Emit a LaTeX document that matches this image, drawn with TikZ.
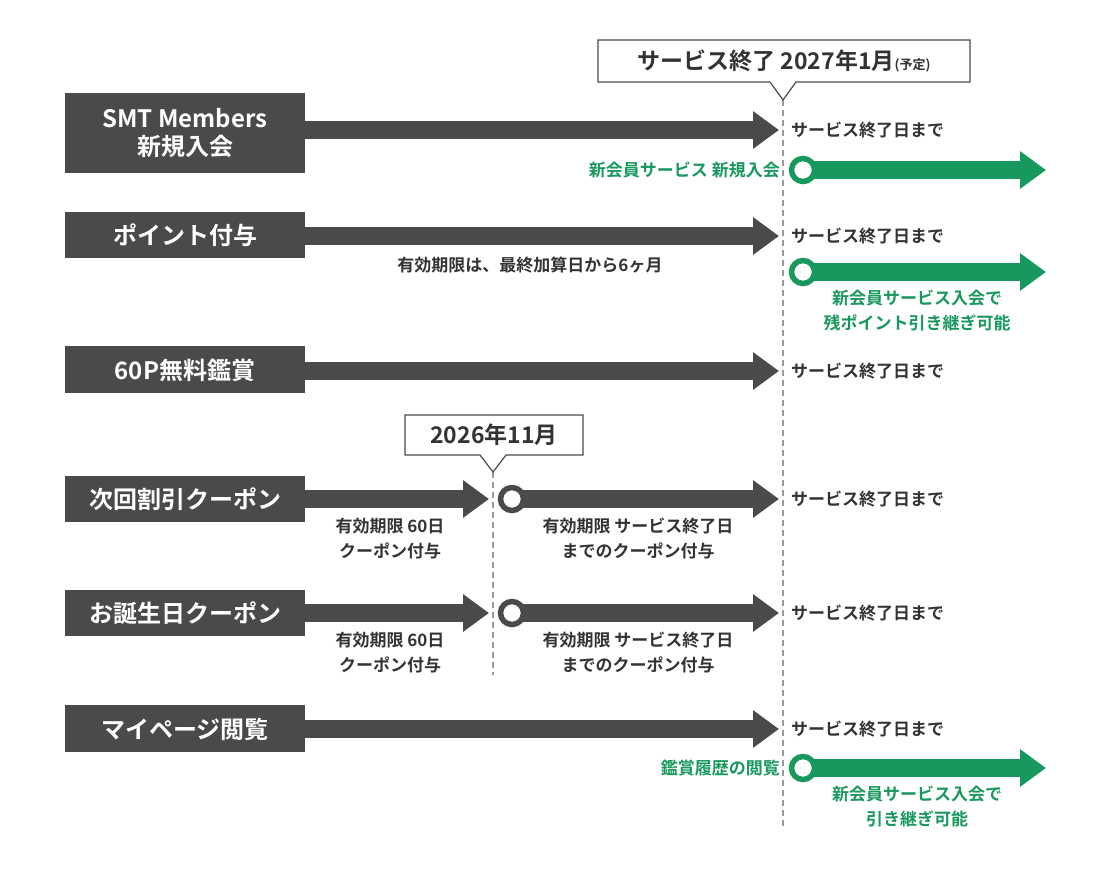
\documentclass[tikz,border=0pt]{standalone}
\usepackage{fontspec}
\setmainfont{Noto Sans CJK JP}[BoldFont={* Bold}]
\usetikzlibrary{arrows.meta}
\definecolor{dk}{HTML}{4A4A4A}
\definecolor{gr}{HTML}{17985C}
\definecolor{txt}{HTML}{333333}
\begin{document}
\begin{tikzpicture}[x=1pt,y=-1pt,
  box/.style={fill=dk,text=white,font=\fontsize{24}{28}\selectfont\bfseries,align=center,inner sep=0},
  fat/.style={line width=18pt,-{Triangle[length=26pt,width=36pt]}},
  lab/.style={text=txt,font=\fontsize{17}{25}\selectfont\bfseries,align=center,inner sep=0},
  glab/.style={text=gr,font=\fontsize{17}{25}\selectfont\bfseries,align=center,inner sep=0},
  ring/.style={circle,draw=#1,line width=5.5pt,fill=white,minimum size=23pt,inner sep=0},
  dline/.style={draw=gray!80,line width=1.2pt,dash pattern=on 6pt off 4pt}]
\useasboundingbox (0,0) rectangle (1100,870);
% dashed lines
\coordinate (d1t) at (783,100); \coordinate (d1b) at (783,830);
\coordinate (d2t) at (493,472); \coordinate (d2b) at (493,675);
\draw[dline] (d1t) -- (d1b);
\draw[dline] (d2t) -- (d2b);
% callouts
\draw[fill=white,draw=dk,line width=1.2pt] (598,40) -- (970,40) -- (970,82) -- (796,82) -- (783,100) -- (770,82) -- (598,82) -- cycle;
\node[lab,font=\fontsize{23}{26}\selectfont\bfseries] (c1) at (784,61) {サービス終了 2027年1月{\fontsize{13}{14}\selectfont(予定)}};
\draw[fill=white,draw=dk,line width=1.2pt] (405,415) -- (583,415) -- (583,455) -- (506,455) -- (493,472) -- (480,455) -- (405,455) -- cycle;
\node[lab,font=\fontsize{23}{26}\selectfont\bfseries] (c2) at (494,435) {2026年11月};
% boxes
\fill[dk] (65,93) rectangle (305,173); \node[box] (b1) at (185,133) {SMT Members\\新規入会};
\fill[dk] (65,212) rectangle (305,258); \node[box] (b2) at (185,235) {ポイント付与};
\fill[dk] (65,346) rectangle (305,393); \node[box] (b3) at (185,370) {60P無料鑑賞};
\fill[dk] (65,476) rectangle (305,522); \node[box] (b4) at (185,499) {次回割引クーポン};
\fill[dk] (65,590) rectangle (305,636); \node[box] (b5) at (185,613) {お誕生日クーポン};
\fill[dk] (65,705) rectangle (305,752); \node[box] (b6) at (185,729) {マイページ閲覧};
\foreach \n/\y in {1/130,2/236,3/371,6/729}{
  \coordinate (s\n) at (304,\y); \coordinate (e\n) at (779,\y);
  \draw[dk,fat] (s\n) -- (e\n);
  \node[lab,anchor=west] (t\n) at (791,\y) {サービス終了日まで};}
\foreach \n/\y in {4/499,5/613}{
  \coordinate (s\n) at (304,\y); \coordinate (m\n) at (489,\y);
  \coordinate (r\n) at (512,\y); \coordinate (e\n) at (779,\y);
  \draw[dk,fat] (s\n) -- (m\n);
  \draw[dk,fat] (r\n) -- (e\n);
  \node[ring=dk] (o\n) at (r\n) {};
  \node[lab,anchor=west] (t\n) at (791,\y) {サービス終了日まで};
  \node[lab] (a\n) at (390,\y+40) {有効期限 60日\\クーポン付与};
  \node[lab] (p\n) at (638,\y+40) {有効期限 サービス終了日\\までのクーポン付与};}
\foreach \n/\y in {1/170,2/272,6/768}{
  \coordinate (g\n) at (803,\y); \coordinate (h\n) at (1046,\y);
  \draw[gr,fat] (g\n) -- (h\n);
  \node[ring=gr] (q\n) at (g\n) {};}
\node[glab,anchor=east] (n1) at (780,170) {新会員サービス 新規入会};
\node[lab] (x2) at (530,265) {有効期限は、最終加算日から6ヶ月};
\node[glab] (n2) at (917,310) {新会員サービス入会で\\残ポイント引き継ぎ可能};
\node[glab,anchor=east] (n6) at (780,768) {鑑賞履歴の閲覧};
\node[glab] (n6b) at (917,806) {新会員サービス入会で\\引き継ぎ可能};
\end{tikzpicture}
\end{document}
